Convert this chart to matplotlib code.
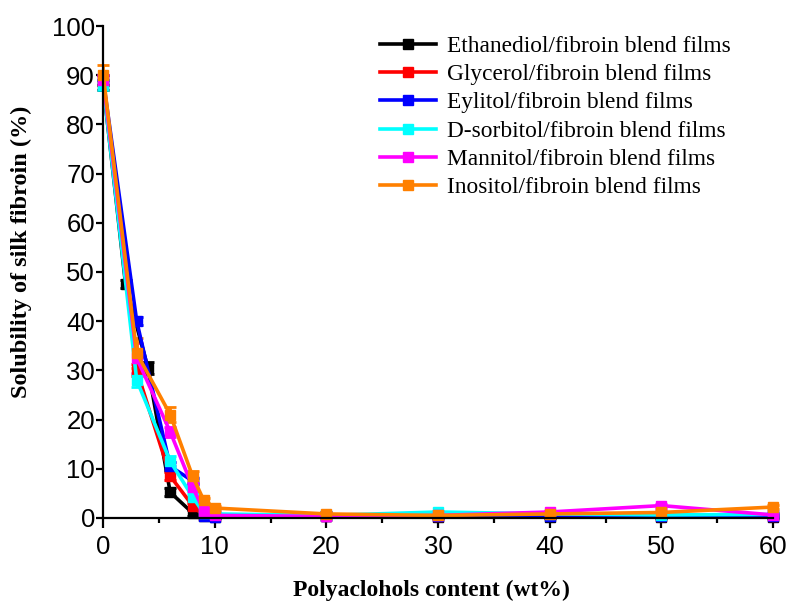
import matplotlib
matplotlib.use("Agg")
import matplotlib.pyplot as plt
import numpy as np

labels = ["Ethanediol/fibroin blend films", "Glycerol/fibroin blend films",
          "Eylitol/fibroin blend films", "D-sorbitol/fibroin blend films",
          "Mannitol/fibroin blend films", "Inositol/fibroin blend films"]
colors = ["#000000", "#ff0000", "#0000ff", "#00ffff", "#ff00ff", "#ff8000"]

x_eth = [0, 2, 4, 6, 8, 9, 10, 20, 30, 40, 50, 60]
y_eth = [88, 47.5, 30.5, 5.2, 1.0, 0.3, 0.2, 0.3, 0.2, 0.2, 0.2, 0.2]
e_eth = [1.0, 0.8, 1.2, 0.8, 0.6, 0.2, 0.2, 0.2, 0.2, 0.2, 0.2, 0.2]

x_gly = [0, 3, 6, 8, 9, 10, 20, 30, 40, 50, 60]
y_gly = [89, 30, 8.5, 2.5, 0.5, 0.3, 0.3, 0.3, 0.5, 0.3, 0.3]
e_gly = [1.0, 1.2, 0.8, 0.5, 0.2, 0.2, 0.2, 0.2, 0.2, 0.2, 0.2]

x_xyl = [0, 3, 6, 8, 9, 10, 20, 30, 40, 50, 60]
y_xyl = [89, 40, 10.5, 7.5, 0.3, 0.2, 0.3, 0.3, 0.4, 0.3, 0.3]
e_xyl = [1.0, 0.8, 0.8, 0.6, 0.2, 0.2, 0.2, 0.2, 0.2, 0.2, 0.2]

x_sor = [0, 3, 6, 8, 9, 10, 20, 30, 40, 50, 60]
y_sor = [88, 28, 11.5, 4.3, 1.0, 0.8, 0.5, 1.2, 0.8, 0.6, 0.7]
e_sor = [1.0, 1.3, 1.0, 0.6, 0.3, 0.2, 0.2, 0.3, 0.2, 0.2, 0.2]

x_man = [0, 3, 6, 8, 9, 10, 20, 30, 40, 50, 60]
y_man = [89, 32.5, 17.5, 6.3, 1.5, 0.5, 0.3, 0.5, 1.2, 2.5, 0.6]
e_man = [1.0, 3.0, 1.0, 0.8, 0.5, 0.2, 0.2, 0.2, 0.3, 0.4, 0.2]

x_ino = [0, 3, 6, 8, 9, 10, 20, 30, 40, 50, 60]
y_ino = [90, 33.5, 21, 8.5, 3.6, 2.0, 0.8, 0.5, 0.8, 1.1, 2.2]
e_ino = [2.0, 3.0, 1.5, 1.0, 0.5, 0.4, 0.3, 0.2, 0.3, 0.3, 0.4]

series = [(x_eth, y_eth, e_eth), (x_gly, y_gly, e_gly), (x_xyl, y_xyl, e_xyl),
          (x_sor, y_sor, e_sor), (x_man, y_man, e_man), (x_ino, y_ino, e_ino)]

fig = plt.figure(figsize=(7.88, 6.05), dpi=100)
ax = fig.add_axes([0.131, 0.144, 0.850, 0.813])

for (xs, ys, es), lab, c in zip(series, labels, colors):
    ax.errorbar(xs, ys, yerr=es, color=c, lw=2.6, marker="s", ms=7.5,
                capsize=4, capthick=2, elinewidth=2, label=lab, clip_on=False)

ax.set_xlim(0, 60)
ax.set_ylim(0, 100)
ax.set_xticks(np.arange(0, 61, 10))
ax.set_xticks(np.arange(0, 61, 5), minor=True)
ax.set_yticks(np.arange(0, 101, 10))
for s in ["top", "right"]:
    ax.spines[s].set_visible(False)
for s in ["left", "bottom"]:
    ax.spines[s].set_linewidth(1.6)
ax.tick_params(axis="x", which="major", direction="out", length=7, width=1.6,
               labelsize=18.5, pad=5)
ax.tick_params(axis="x", which="minor", direction="out", length=3.5, width=1.6)
ax.tick_params(axis="y", which="major", direction="out", length=5, width=1.6,
               labelsize=18.5, pad=1)
for t in ax.get_xticklabels() + ax.get_yticklabels():
    t.set_fontfamily("Liberation Sans")

ax.set_xlabel("Polyaclohols content (wt%)", fontfamily="Liberation Serif",
              fontweight="bold", fontsize=17)
ax.set_ylabel("Solubility of silk fibroin (%)", fontfamily="Liberation Serif",
              fontweight="bold", fontsize=17.5)
ax.xaxis.set_label_coords(0.49, -0.125)
ax.yaxis.set_label_coords(-0.106, 0.54)

handles, labs = ax.get_legend_handles_labels()
handles = [h[0] for h in handles]
leg = ax.legend(handles, labs, loc="upper left", bbox_to_anchor=(0.40, 1.0),
                frameon=False, prop={"family": "Liberation Serif", "size": 16.8},
                handlelength=2.4, handletextpad=0.45, labelspacing=0.3,
                numpoints=1, borderaxespad=0.0)

fig.savefig("out.png", dpi=100)
